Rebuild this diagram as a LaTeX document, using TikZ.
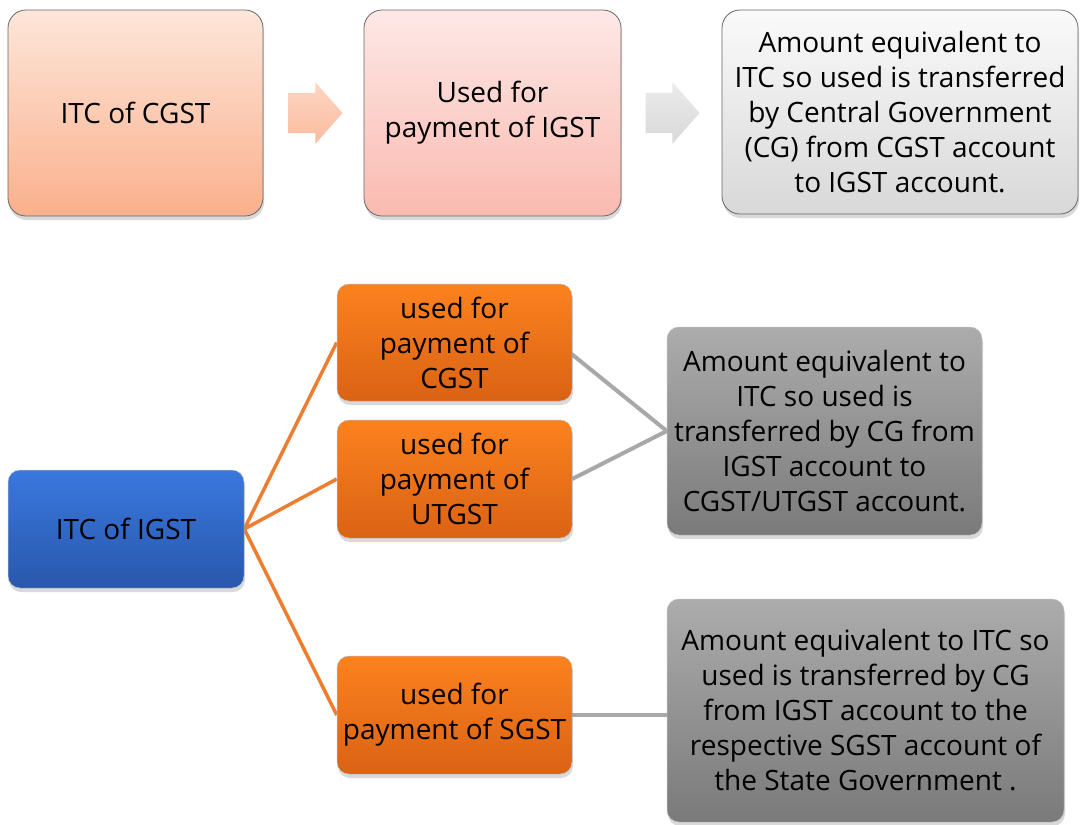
\documentclass[tikz,border=0pt]{standalone}
\usepackage{fontspec}
\setmainfont{Open Sans}
\usetikzlibrary{positioning}
\usetikzlibrary{shapes.arrows}
\usetikzlibrary{shadows}
\usetikzlibrary{backgrounds}
\definecolor{peachtop}{RGB}{253,230,218}
\definecolor{peachbot}{RGB}{250,176,140}
\definecolor{pinktop}{RGB}{253,232,230}
\definecolor{pinkbot}{RGB}{250,186,176}
\definecolor{palegreytop}{RGB}{250,250,250}
\definecolor{palegreybot}{RGB}{216,216,216}
\definecolor{bluetop}{RGB}{58,120,222}
\definecolor{bluebot}{RGB}{40,88,172}
\definecolor{orgtop}{RGB}{252,130,30}
\definecolor{orgbot}{RGB}{218,98,20}
\definecolor{dgreytop}{RGB}{172,172,172}
\definecolor{dgreybot}{RGB}{122,122,122}
\definecolor{orgline}{RGB}{237,125,49}
\definecolor{greyline}{RGB}{168,168,168}
\tikzset{txt/.style = {align=center, font=\fontsize{28}{35}\selectfont, text=black}}
\tikzset{topbox/.style = {txt, draw=black!60, line width=0.8pt, rounded corners=18pt,
                          drop shadow={shadow xshift=1pt, shadow yshift=-4pt, opacity=0.3}}}
\tikzset{lowbox/.style = {txt, draw=black!25, line width=0.5pt, rounded corners=12pt,
                          drop shadow={shadow xshift=1pt, shadow yshift=-4pt, opacity=0.3}}}
\tikzset{blkarrow/.style = {single arrow, inner xsep=0pt, inner ysep=20pt, minimum height=54pt,
                            single arrow head extend=10.5pt, single arrow tip angle=97}}

\begin{document}
\begin{tikzpicture}[x=1pt, y=-1pt]
      \useasboundingbox (0, 0) rectangle (1080, 825);

      % upper row
      \node [topbox, top color=peachtop, bottom color=peachbot, minimum width=255pt, minimum height=206pt]
        (cgst) at (135.5, 113) {ITC of CGST};
      \node [topbox, top color=pinktop, bottom color=pinkbot, minimum width=257pt, minimum height=206pt]
        (usedI) at (492.5, 113) {Used for\\payment of IGST};
      \node [topbox, top color=palegreytop, bottom color=palegreybot, minimum width=356pt, minimum height=204pt]
        (amtT) at (900, 112) {Amount equivalent to\\ITC so used is transferred\\by Central Government\\(CG) from CGST account\\to IGST account.};
      \node [blkarrow, top color=peachtop!70!peachbot, bottom color=peachbot!85!white,
             right=25pt of cgst] (arrA) {};
      \node [blkarrow, top color=black!8, bottom color=black!15, right=24pt of usedI] (arrB) {};

      % lower part
      \node [lowbox, top color=bluetop, bottom color=bluebot, minimum width=236pt, minimum height=118pt]
        (itcI) at (126, 529) {ITC of IGST};
      \node [lowbox, top color=orgtop, bottom color=orgbot, minimum width=235pt, minimum height=117pt]
        (useC) at (454.5, 342.5) {used for\\payment of\\CGST};
      \node [lowbox, top color=orgtop, bottom color=orgbot, minimum width=235pt, minimum height=118pt]
        (useU) at (454.5, 479) {used for\\payment of\\UTGST};
      \node [lowbox, top color=orgtop, bottom color=orgbot, minimum width=235pt, minimum height=118pt]
        (useS) at (454.5, 715) {used for\\payment of SGST};
      \node [lowbox, top color=dgreytop, bottom color=dgreybot, minimum width=315pt, minimum height=208pt]
        (amtA) at (824.5, 431) {Amount equivalent to\\ITC so used is\\transferred by CG from\\IGST account to\\CGST/UTGST account.};
      \node [lowbox, top color=dgreytop, bottom color=dgreybot, minimum width=397pt, minimum height=223pt]
        (amtB) at (865.5, 710.5) {Amount equivalent to ITC so\\used is transferred by CG\\from IGST account to the\\respective SGST account of\\the State Government .};

      \begin{scope}[on background layer]
        \draw [orgline, line width=3.5pt] (useC.west) -- (itcI.east) -- (useU.west);
        \draw [orgline, line width=3.5pt] (itcI.east) -- (useS.west);
        \draw [greyline, line width=4pt] ([shift={(-5, 8)}]useC.east) -- (amtA.west);
        \draw [greyline, line width=4pt] (useU.east) -- (amtA.west);
        \draw [greyline, line width=4pt] (useS.east) -- (useS.east -| amtB.west);
      \end{scope}
    \end{tikzpicture}
\end{document}
